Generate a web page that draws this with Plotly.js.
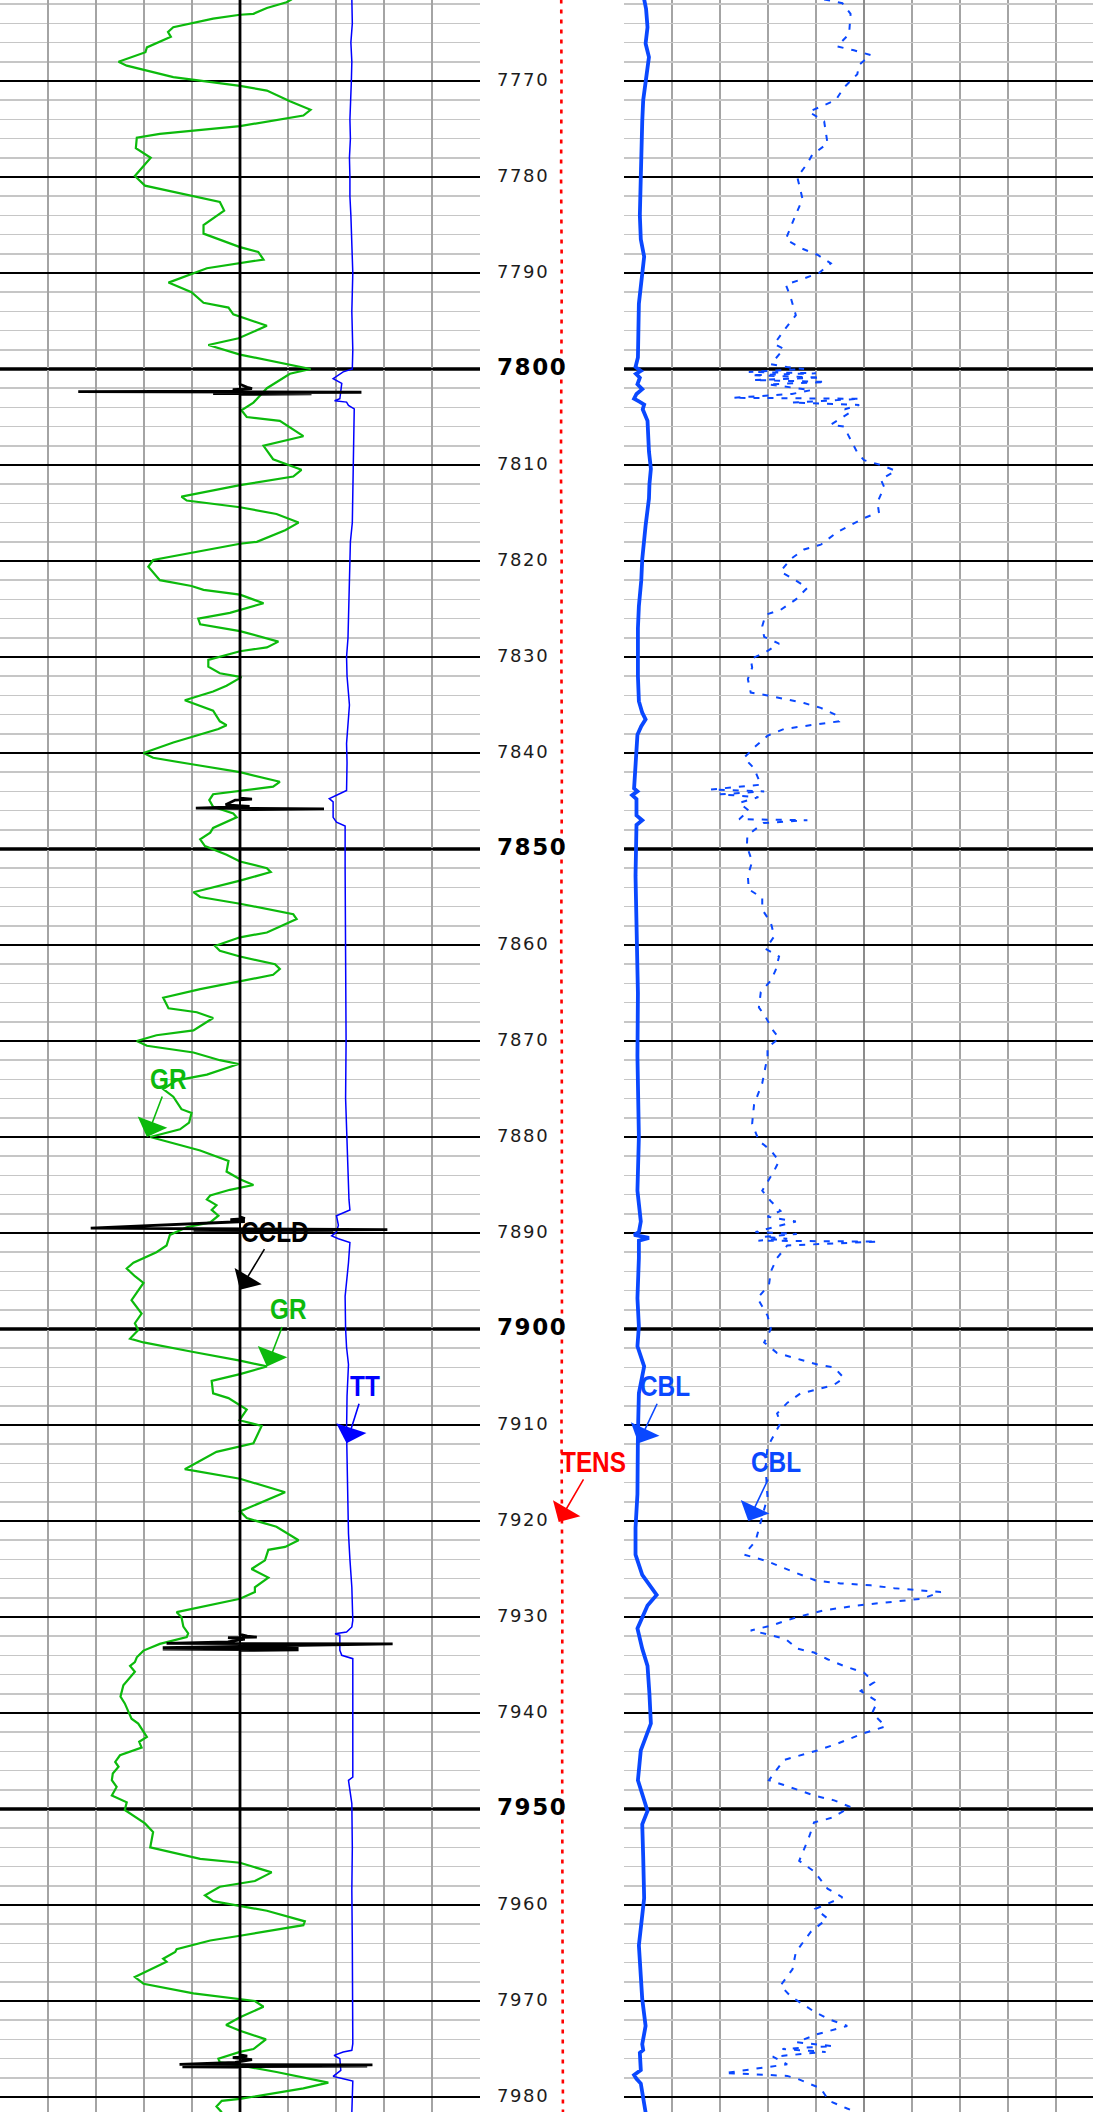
<!DOCTYPE html>
<html><head><meta charset="utf-8">
<script src="https://cdn.plot.ly/plotly-3.0.1.min.js"></script>
<style>
html,body{margin:0;padding:0;overflow:hidden;background:#fff;}
#chart{width:1104px;height:2112px;}
.textpoint text{letter-spacing:1.6px;}
text.annotation-text{transform:scaleX(0.84);transform-box:fill-box;transform-origin:50% 50%;}
</style></head><body><div id="chart"></div>
<script>
// ---------------- data ----------------
const DEPTH_TOP = 7761.5625, DEPTH_BOTTOM = 7981.5625;
const DEPTH_TICKS = [7770,7780,7790,7800,7810,7820,7830,7840,7850,7860,7870,7880,7890,7900,7910,7920,7930,7940,7950,7960,7970,7980];
const THICK_DEPTHS = [7800,7850,7900,7950];

const GR_DEPTH = [7761.5,7761.8,7762.4,7763.0,7763.1,7763.5,7764.4,7764.9,7765.4,7766.5,7767.0,7768.0,7768.4,7769.6,7770.5,7771.0,7772.1,7773.0,7773.6,7774.7,7775.5,7775.9,7777.0,7778.0,7779.9,7780.9,7782.6,7783.5,7785.0,7785.9,7787.3,7787.8,7788.6,7789.5,7791.0,7792.0,7793.1,7793.6,7794.3,7795.5,7796.8,7797.5,7798.5,7800.0,7800.5,7802.0,7803.5,7804.3,7805.0,7805.4,7807.0,7808.0,7809.4,7810.5,7811.2,7812.1,7813.3,7813.7,7814.4,7815.1,7816.0,
7816.8,7818.0,7818.2,7819.9,7820.6,7822.0,7822.6,7823.0,7823.5,7824.4,7825.4,7826.0,7826.6,7827.3,7828.4,7829.0,7829.4,7830.3,7831.0,7831.7,7832.1,7833.0,7833.6,7834.5,7835.1,7835.6,7836.7,7837.1,7837.5,7838.9,7840.0,7840.5,7841.2,7842.0,7843.0,7843.5,7844.3,7844.9,7845.6,7846.3,7846.7,7847.8,7848.3,7849.0,7849.7,7850.6,7851.3,7852.0,7852.4,7853.3,7854.5,7855.0,7855.7,7856.8,7857.3,7858.7,7859.2,7860.1,7860.6,7861.2,7862.0,7862.5,7863.1,7863.8,7864.6,7865.5,7866.6,7867.0,7867.6,7868.9,7869.4,7870.0,7870.5,7871.2,
7872.0,7872.4,7873.5,7874.1,7875.0,7875.8,7877.1,7877.5,7878.5,7879.2,7880.0,7881.4,7882.5,7883.6,7884.4,7885.0,7885.5,7886.1,7886.5,7887.1,7887.6,7888.2,7888.9,7889.4,7890.2,7891.3,7892.0,7893.1,7893.7,7894.5,7895.2,7897.0,7898.4,7899.4,7900.1,7901.0,7901.4,7902.4,7903.3,7903.9,7904.7,7905.4,7906.7,7907.2,7908.4,7909.5,7910.1,7911.9,7912.8,7914.6,7915.6,7917.0,7919.0,7919.7,7920.6,7922.0,7922.7,7923.0,7924.1,7925.0,7925.9,7926.9,
7927.4,7928.1,7929.5,7930.0,7931.0,7931.7,7932.1,7932.8,7933.5,7934.2,7934.7,7935.1,7935.7,7937.1,7938.3,7939.0,7940.6,7941.1,7942.5,7943.0,7943.6,7944.4,7945.1,7945.6,7946.3,7947.0,7947.7,7948.6,7949.3,7950.1,7951.5,7952.4,7954.0,7955.2,7955.6,7956.6,7957.5,7958.1,7959.0,7959.6,7960.6,7961.7,7962.1,7963.2,7963.7,7964.6,7964.9,7965.6,7965.9,7967.5,7968.2,7969.2,7969.8,7970.0,7970.6,7971.7,7972.5,7973.1,7974.0,7975.0,7975.3,7976.0,7976.4,7976.7,7977.4,7978.5,7979.1,7980.2,7980.4,7981.0,7981.6];
const GR_API = [60.8,59.7,55.6,52.8,50.0,44.4,36.1,35.0,35.6,30.6,30.3,24.7,26.4,36.1,50.0,55.6,60.4,64.7,63.2,50.0,33.3,28.5,28.3,31.4,28.1,30.2,45.8,46.7,42.4,42.4,50.0,53.8,54.9,43.1,35.1,39.9,42.4,47.6,48.6,55.6,49.7,43.4,50.0,64.7,60.4,55.6,52.8,50.3,51.4,58.3,63.2,54.9,56.9,62.8,61.1,50.0,37.8,38.9,50.0,57.6,62.2,
59.4,53.5,50.0,31.9,30.9,33.3,39.9,42.4,50.0,54.9,47.9,41.3,41.7,50.0,58.0,55.6,50.0,43.4,43.4,45.8,50.3,47.2,44.4,38.5,41.7,44.4,45.8,47.2,45.5,36.1,29.9,31.9,40.3,50.0,58.3,56.9,44.4,43.6,44.4,48.6,49.3,44.4,43.8,41.7,42.7,47.2,50.0,55.6,56.4,50.0,40.3,41.7,50.0,61.1,61.8,55.6,50.0,44.8,45.8,50.0,57.3,58.3,56.9,50.0,41.7,34.0,35.1,41.0,44.4,40.3,32.6,28.5,30.6,40.3,
45.8,49.7,43.1,36.8,34.0,36.1,37.8,39.9,39.4,37.5,31.3,41.7,47.6,47.2,50.0,52.8,47.9,43.8,43.1,45.1,44.1,45.5,43.8,38.9,35.4,34.7,32.6,27.8,26.4,28.1,29.9,27.4,29.5,28.1,28.8,27.1,29.9,40.3,50.0,55.6,50.0,44.1,44.4,47.6,51.4,49.9,54.5,52.8,45.1,38.5,50.0,59.4,50.0,51.4,57.6,62.2,59.4,55.9,55.2,52.4,55.9,53.1,
53.1,50.0,36.8,37.8,38.2,39.2,38.9,33.3,29.9,28.5,28.1,27.1,28.1,25.7,25.1,26.0,27.4,28.8,30.6,29.0,29.5,25.0,24.0,24.7,23.5,23.3,24.3,23.3,26.4,26.0,30.2,31.9,31.3,41.7,50.0,56.6,53.1,45.8,42.7,44.4,55.6,63.5,63.2,50.0,43.8,36.8,36.5,34.0,34.7,28.1,29.9,40.3,50.0,53.1,54.9,50.0,47.1,50.0,55.4,52.8,50.0,45.5,45.8,50.0,57.6,68.4,63.2,50.0,46.2,45.1,46.2];

const TT_DEPTH = [7761.5,7764,7766,7768,7770,7772,7774,7776,7778,7780,7782,7784,7786,7788,7790,7792,7794,7796,7798,7800.0,7800.3,7801.0,7801.5,7803.1,7803.3,7803.45,7803.8,7804.15,7808,7812,7816,7818,7820,7823,7826,7828,7830,7832,7835,7837,7839,7841,7843.9,7844.4,7844.75,7845.1,7846.7,7847.2,7847.6,7852,7858,7864,7870,7876,7880,7883,7885,7886.5,7887.6,7888.2,7889.2,7889.9,7890.3,7890.6,7891.0,7893.1,7896.6,7900,7901.9,7903.7,7907,7910.7,7916,7921.3,7924,7926.9,7930.35,7931.04,7931.56,7931.74,7931.91,7933.47,7933.99,7934.34,7940,7946.67,7947.01,7949.44,7954,7958.47,7964,7970,7974.44,7975.14,7975.31,7975.66,7976.0,7977.22,7977.85,7978.09,7978.33,7981.6];
const TT_US = [346.6,346.8,346.2,346.6,346.4,346.0,345.8,346.0,345.6,345.8,345.8,346.2,346.4,346.6,347.0,346.8,346.6,346.8,347.0,346.8,343.0,338.8,342.4,341.6,339.4,344.4,345.2,347.6,347.4,347.2,346.8,346.0,345.8,345.6,345.4,345.0,344.4,344.6,345.6,345.0,344.4,344.6,344.4,340.2,337.2,338.8,338.8,340.2,343.8,343.8,344.0,344.0,344.2,344.0,344.4,344.8,345.2,345.4,345.8,340.2,341.0,340.2,338.2,341.0,345.8,345.2,343.8,344.0,344.4,345.2,344.6,344.4,344.8,345.2,345.8,346.6,347.0,346.6,344.4,339.6,341.6,341.6,342.4,347.0,347.0,347.0,345.2,346.6,346.8,346.6,346.8,347.0,347.0,346.6,343.0,339.2,341.6,342.0,338.8,343.0,347.0,346.6];

const CCLD_DEPTH = [7761.5,7801.6,7801.9,7802.05,7802.15,7802.3,7802.36,7802.42,7802.46,7802.5,7802.55,7802.6,7802.65,7844.7,7844.8,7844.9,7845.4,7845.55,7845.75,7845.82,7845.9,7888.3,7888.5,7888.6,7888.8,7889.5,7889.65,7889.62,7889.68,7889.72,7889.78,7889.82,7931.8,7932.0,7932.1,7932.15,7932.3,7932.6,7932.75,7932.8,7933.2,7933.27,7933.34,7933.41,7933.48,7975.6,7975.75,7975.9,7976.1,7976.4,7976.6,7976.65,7976.72,7976.78,7976.85,7976.92,7981.6];
const CCLD_V = [0,0,0.3,0.5,-0.3,-0.1,-6.74,5.06,-1.12,2.98,-1.12,2.98,0,0,0.5,-0.2,-0.6,0.4,-1.84,3.5,0,0,0.2,-0.4,0.2,-6.22,6.14,-1.94,3.88,-1.94,3.88,0,0,0.3,0.7,-0.5,0.2,-0.5,-3.06,6.36,-3.22,2.44,-3.22,2.44,0,0,0.3,-0.3,0.5,-0.2,-2.52,5.52,-2.3,5.3,-2.4,0,0];

const CBL_DEPTH = [7761.5,7762.5,7764.4,7766.1,7767.5,7768.5,7770.0,7772.0,7774.2,7777.0,7780.0,7784.0,7786.5,7788.3,7790.0,7793.2,7796.0,7798.8,7799.8,7800.2,7800.5,7800.9,7801.6,7802.1,7802.6,7803.1,7803.4,7803.7,7804.2,7805.4,7808.6,7810.4,7812.0,7813.5,7816.3,7819.8,7822.0,7824.7,7827.0,7829.7,7832.0,7834.6,7835.8,7836.5,7837.2,7838.1,7842.3,7843.7,7844.0,7844.4,7844.8,7846.5,7847.0,7847.5,7852.8,7859.8,7865.0,7871.6,7880.0,7885.6,7888.8,7889.9,7890.2,7890.5,7890.8,7892.6,7896.8,7899.7,7901.8,7903.9,7906.7,7910.9,7917.2,7920.7,7923.5,7925.6,7927.7,7928.8,7931.2,7933.3,7935.1,7938.0,7941.1,7943.9,7947.0,7950.2,7951.6,7955.0,7959.3,7964.2,7969.8,7972.6,7974.5,7975.1,7975.4,7977.2,7977.7,7978.1,7978.6,7981.6];
const CBL_MV = [4.2,4.6,4.9,4.5,5.2,4.9,4.5,4.0,3.8,3.6,3.5,3.3,3.5,4.2,3.8,3.1,3.0,2.9,2.4,3.5,2.5,3.3,2.8,3.8,2.6,2.1,3.2,4.2,3.9,4.9,5.2,5.6,5.3,5.2,4.5,3.8,3.6,3.1,2.9,2.8,2.9,3.1,3.8,4.5,3.6,2.8,2.4,2.1,2.8,1.7,2.6,2.6,3.8,2.6,2.4,2.8,2.9,2.8,3.1,2.8,3.5,3.1,2.1,5.2,3.1,3.1,2.8,3.1,2.8,4.2,3.1,2.9,2.8,2.4,2.4,3.8,6.8,4.9,2.8,3.8,4.9,5.3,5.6,3.5,2.9,4.9,3.8,4.0,4.2,3.1,3.8,4.5,3.8,4.0,3.3,3.5,2.1,2.6,3.5,4.5];

const CBLA_DEPTH = [7761.5,7761.9,7763.0,7765.1,7766.4,7766.8,7767.3,7768.3,7769.3,7770.7,7772.0,7772.7,7773.2,7774.2,7776.5,7777.7,7778.6,7780.0,7782.3,7783.9,7786.5,7787.4,7788.1,7789.0,7790.0,7790.7,7791.2,7792.5,7794.4,7796.0,7797.4,7797.9,7799.5,7799.8,7800.0,7800.3,7800.45,7800.65,7800.9,7801.15,7801.35,7801.6,7802.2,7802.6,7803.0,7803.1,7803.5,7803.75,7804.2,7804.5,7805.8,7806.0,7808.7,7809.5,7810.0,7810.6,7811.5,7812.3,7813.9,7814.9,7815.6,7817.0,7818.3,7818.8,7819.8,7821.1,7821.9,7822.8,7824.0,7825.1,7825.6,7826.8,7827.9,7828.6,7829.5,7830.2,7831.1,7832.3,7833.7,7834.0,7834.4,7834.8,7835.3,7836.1,7836.7,7837.0,7837.2,7837.5,7838.2,7839.3,7840.5,7841.6,7843.3,7843.8,7844.0,7844.3,7844.6,7845.2,7846.0,7846.9,7847.0,7847.3,7848.6,7849.7,7851.3,7852.8,7854.2,7855.1,7856.3,7857.7,7859.1,7860.4,7861.2,7862.6,7863.7,7864.9,7866.5,7867.5,7868.8,7869.7,7870.7,7871.6,7874.4,7876.6,7878.6,7880.4,7881.4,7882.5,7883.5,7885.6,7886.7,7887.7,7888.3,7888.8,7889.9,7890.1,7890.4,7890.6,7890.8,7890.9,7891.3,7892.6,7894.0,7895.4,7896.8,7898.6,7900.0,7901.4,7902.5,7903.2,7903.7,7904.0,7905.1,7905.8,7906.3,7906.7,7907.7,7908.8,7909.8,7912.3,7914.4,7917.5,7920.7,7922.1,7923.5,7924.2,7924.9,7925.5,7926.2,7926.5,7926.7,7927.0,7927.4,7928.1,7928.8,7929.3,7930.0,7930.9,7931.4,7931.8,7932.3,7933.3,7933.7,7934.4,7935.1,7935.8,7936.8,7937.7,7938.8,7940.0,7941.4,7942.1,7943.2,7943.9,7944.9,7947.0,7947.5,7948.6,7949.1,7949.8,7950.9,7951.4,7953.0,7955.4,7956.5,7958.3,7959.2,7960.4,7961.4,7962.8,7964.9,7966.7,7968.4,7969.5,7970.2,7971.1,7971.9,7972.6,7973.5,7974.3,7974.7,7975.0,7975.3,7975.8,7976.6,7977.5,7977.8,7978.1,7979.1,7980.4,7981.2,7981.6];
const CBLA_MV = [4.17,4.55,4.72,4.69,4.44,4.79,5.14,4.90,4.86,4.58,4.41,4.10,3.85,4.17,4.24,3.92,3.82,3.61,3.72,3.58,3.37,3.68,4.03,4.31,4.06,3.68,3.37,3.47,3.58,3.33,3.13,3.33,3.06,3.40,3.75,2.60,4.00,2.65,4.10,2.70,4.20,3.00,3.90,3.50,2.27,4.92,3.50,4.90,4.60,4.72,4.31,4.58,4.86,5.00,5.35,5.66,5.35,5.42,5.28,5.31,4.97,4.44,4.10,3.75,3.47,3.26,3.54,3.82,3.58,3.26,2.95,2.88,2.92,3.23,2.95,2.64,2.67,2.58,2.64,2.99,3.40,3.75,4.10,4.44,4.48,4.10,3.75,3.33,2.99,2.74,2.50,2.71,2.85,1.81,2.92,2.00,2.80,2.40,2.60,2.40,3.82,2.90,2.57,2.56,2.67,2.58,2.60,2.88,2.88,3.06,3.13,2.95,3.23,3.16,3.06,2.85,2.81,2.95,3.09,3.23,2.99,2.99,2.88,2.71,2.67,2.81,3.06,3.23,3.13,2.88,3.06,3.26,2.99,3.58,2.74,3.60,2.90,3.40,2.80,5.28,3.40,3.19,3.06,3.02,2.78,2.99,3.06,2.92,3.19,3.68,4.03,4.38,4.58,4.38,4.03,3.68,3.40,3.19,3.26,2.99,2.95,2.99,2.81,2.74,2.50,2.99,3.33,3.65,3.99,4.51,5.14,5.63,6.60,6.20,4.86,4.17,3.61,3.06,2.64,2.99,3.37,3.61,3.96,4.24,4.58,5.00,5.21,4.93,5.28,5.17,5.45,5.00,4.44,4.03,3.33,3.02,3.33,3.96,4.38,4.72,4.34,3.96,3.85,3.65,3.96,4.24,4.55,3.99,4.24,3.89,3.58,3.51,3.26,3.47,3.68,3.96,4.27,4.65,4.00,3.60,4.35,3.30,4.20,3.10,3.40,2.10,3.40,3.61,4.10,4.27,4.65,4.86];

const TENS_DEPTH = [7761.5,7770,7780,7790,7800,7810,7820,7830,7840,7850,7860,7870,7880,7890,7900,7910,7920,7930,7940,7950,7960,7970,7981.6];
const TENS_LB = [5640,5660,5630,5680,5650,5620,5670,5650,5690,5660,5640,5680,5700,5670,5690,5660,5700,5720,5700,5730,5750,5740,5760];

// ---------------- styling ----------------
const W = 1104, H = 2112;
const TRACK1 = [0, 480 / W], DEPTHTRACK = [480 / W, 624 / W], TRACK2 = [624 / W, 1];
const GREEN = 'rgb(12,186,12)', CBLC = '#0a48ff', TTC = '#0000ff';
const GRID = '#a4a4a4', MINOR_Y = '#c6c6c6';
const LABEL_FONT = "'Liberation Sans Narrow','Arial Narrow','Liberation Sans',Arial,sans-serif";
const LABEL_X = 1181;

const regTicks = DEPTH_TICKS.filter(d => d % 50 !== 0);
const boldTicks = DEPTH_TICKS.filter(d => d % 50 === 0);

const traces = [
  {type:'scatter', mode:'lines', name:'GR', x:GR_API, y:GR_DEPTH, xaxis:'x2', yaxis:'y', line:{color:GREEN, width:2.2}},
  {type:'scatter', mode:'lines', name:'TT', x:TT_US, y:TT_DEPTH, xaxis:'x3', yaxis:'y', line:{color:TTC, width:1.5}},
  {type:'scatter', mode:'lines', name:'CCLD', x:CCLD_V, y:CCLD_DEPTH, xaxis:'x4', yaxis:'y', line:{color:'#000', width:2.8}},
  {type:'scatter', mode:'lines', name:'CBL amp', x:CBLA_MV, y:CBLA_DEPTH, xaxis:'x5', yaxis:'y', line:{color:CBLC, width:2, dash:'6px,8px'}},
  {type:'scatter', mode:'lines', name:'CBL', x:CBL_MV, y:CBL_DEPTH, xaxis:'x6', yaxis:'y', line:{color:CBLC, width:3.8}},
  {type:'scatter', mode:'lines', name:'TENS', x:TENS_LB, y:TENS_DEPTH, xaxis:'x7', yaxis:'y2', line:{color:'#ff0000', width:2.6, dash:'4px,6px'}},
  {type:'scatter', mode:'text', x:regTicks.map(() => LABEL_X), y:regTicks, text:regTicks.map(String), xaxis:'x7', yaxis:'y2',
   textposition:'middle right', textfont:{family:'DejaVu Sans', size:18, color:'#1c1c1c'}, hoverinfo:'skip'},
  {type:'scatter', mode:'text', x:boldTicks.map(() => LABEL_X), y:boldTicks, text:boldTicks.map(String), xaxis:'x7', yaxis:'y2',
   textposition:'middle right', textfont:{family:'DejaVu Sans', size:23, color:'#000', weight:'bold'}, hoverinfo:'skip'}
];

const shapes = [];
THICK_DEPTHS.forEach(d => [TRACK1, TRACK2].forEach(dom => shapes.push({
  type:'line', xref:'paper', yref:'y', x0:dom[0], x1:dom[1], y0:d, y1:d, line:{color:'#000', width:3.6}, layer:'below'
})));

function label(text, color, xref, yref, x, y, ax, ay) {
  return {text:'<b>' + text + '</b>', xref:xref, yref:yref, x:x, y:y, ax:ax, ay:ay, axref:'pixel', ayref:'pixel',
    showarrow:true, arrowhead:1, arrowsize:3.3, arrowwidth:1.6, arrowcolor:color, standoff:0,
    font:{family:LABEL_FONT, size:29, color:color}};
}
const annotations = [
  label('GR', GREEN, 'x', 'y', -1.94, 7880.0, 22, -58),
  label('GR', GREEN, 'x', 'y', 0.56, 7903.9, 22, -57),
  label('CCLD', '#000', 'x', 'y', 0, 7895.9, 35, -58),
  label('TT', TTC, 'x', 'y', 2.22, 7911.9, 18, -57),
  label('CBL', CBLC, 'x5', 'y', 0.30, 7911.9, 27, -57),
  label('CBL', CBLC, 'x5', 'y', 2.59, 7920.0, 28, -59),
  label('TENS', '#ff0000', 'x7', 'y2', 5465, 7920.1, 35, -60)
];

const hidden = {visible:false, fixedrange:true};
const layout = {
  width:W, height:H, margin:{l:0, r:0, t:0, b:0, pad:0}, showlegend:false,
  paper_bgcolor:'#ffffff', plot_bgcolor:'#ffffff',
  xaxis:{domain:TRACK1, range:[-5, 5], dtick:1, tick0:0, showgrid:true, gridcolor:GRID, gridwidth:1.7,
         zeroline:true, zerolinecolor:'#000', zerolinewidth:2.4, showticklabels:false, ticks:'', showline:false, anchor:'y', fixedrange:true},
  xaxis2:Object.assign({overlaying:'x', range:[0, 100], anchor:'y'}, hidden),
  xaxis3:Object.assign({overlaying:'x', range:[200, 400], anchor:'y'}, hidden),
  xaxis4:Object.assign({overlaying:'x', range:[-10, 10], anchor:'y'}, hidden),
  xaxis5:{domain:TRACK2, range:[0, 10], dtick:5, tick0:0, showgrid:true, gridcolor:'#8c8c8c', gridwidth:2,
          minor:{dtick:1, tick0:0, showgrid:true, gridcolor:GRID, gridwidth:1.7},
          zeroline:false, showticklabels:false, ticks:'', showline:false, anchor:'y', fixedrange:true},
  xaxis6:Object.assign({overlaying:'x5', range:[0, 100], anchor:'y'}, hidden),
  xaxis7:Object.assign({domain:DEPTHTRACK, range:[0, 10000], anchor:'y2'}, hidden),
  yaxis:{range:[DEPTH_BOTTOM, DEPTH_TOP], dtick:10, tick0:7770, showgrid:true, gridcolor:'#000', gridwidth:2,
         minor:{dtick:2, tick0:7770, showgrid:true, gridcolor:MINOR_Y, gridwidth:1.6},
         zeroline:false, showticklabels:false, ticks:'', showline:false, anchor:'x', fixedrange:true},
  yaxis2:Object.assign({range:[DEPTH_BOTTOM, DEPTH_TOP], anchor:'x7'}, hidden),
  shapes:shapes, annotations:annotations
};

Plotly.newPlot('chart', traces, layout, {staticPlot:true, displayModeBar:false});
</script>
</body></html>
